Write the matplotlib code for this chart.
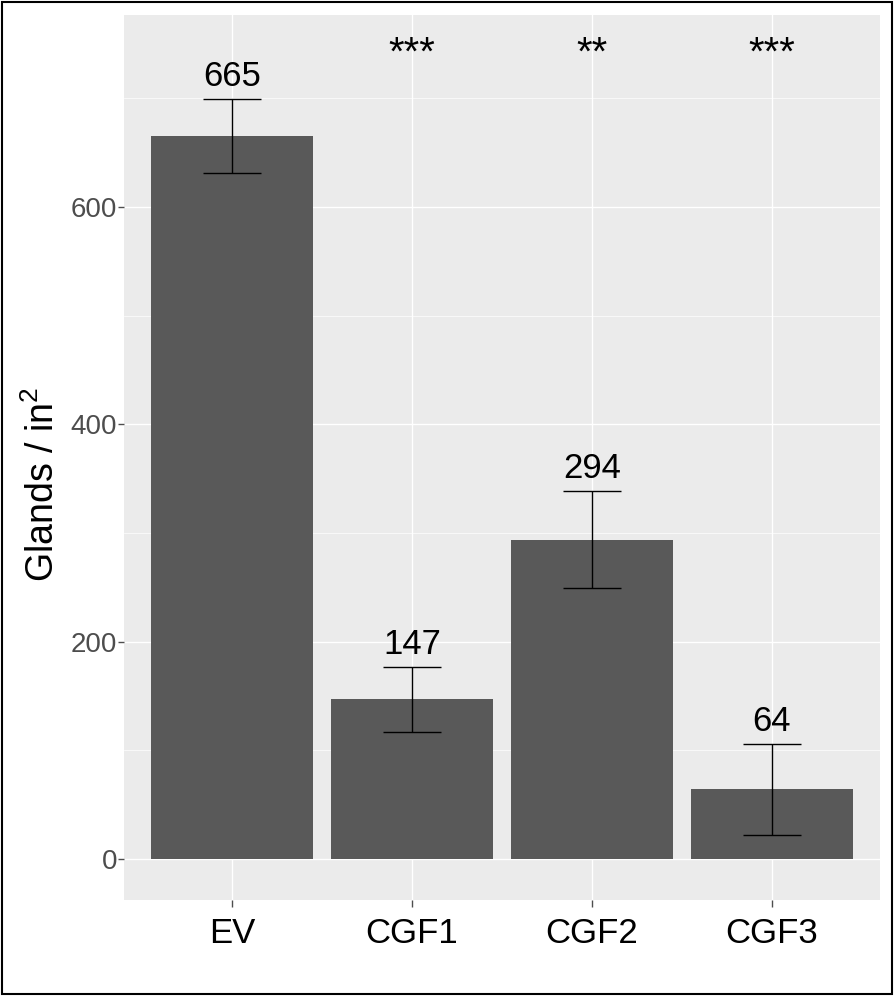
import matplotlib
matplotlib.use("Agg")
import matplotlib.pyplot as plt
from matplotlib.patches import Rectangle
import numpy as np

plt.rcParams['font.family'] = ['Liberation Sans', 'DejaVu Sans']
plt.rcParams['mathtext.fontset'] = 'custom'
plt.rcParams['mathtext.rm'] = 'Liberation Sans'
plt.rcParams['mathtext.it'] = 'Liberation Sans'

# data
groups = ["EV", "CGF1", "CGF2", "CGF3"]
glands = [665, 147, 294, 64]
err = [34, 30, 45, 42]
stars = ["", "***", "**", "***"]
y_ticks = [0, 200, 400, 600]

fig = plt.figure(figsize=(8.95, 9.96), dpi=100)
ax = fig.add_axes([0.1385, 0.0964, 0.8447, 0.8886])
ax.set_facecolor('#ebebeb')
for s in ax.spines.values():
    s.set_visible(False)

x = np.arange(1, len(groups) + 1)

# grid (ggplot theme_gray look)
for yv in [100, 300, 500, 700]:
    ax.axhline(yv, color='white', lw=0.5, zorder=0)
for yv in y_ticks:
    ax.axhline(yv, color='white', lw=1.0, zorder=0)
for xv in x:
    ax.axvline(xv, color='white', lw=1.0, zorder=0)

ax.bar(x, glands, width=0.9, color='#595959', zorder=2)
ax.errorbar(x, glands, yerr=err, fmt='none', ecolor='black',
            elinewidth=1.0, capsize=21, capthick=1.0, zorder=3)

for xi, g, e in zip(x, glands, err):
    ax.text(xi, g + e + 12, str(g), ha='center', va='baseline',
            fontsize=25, color='black', zorder=4)

for xi, s in zip(x, stars):
    if s:
        ax.text(xi, 731, s, ha='center', va='baseline', fontsize=29,
                color='black', zorder=4)

ax.set_xlim(0.4, 4.6)
ax.set_ylim(-37.7, 776.7)
ax.set_xticks(x)
ax.set_xticklabels(groups, fontsize=25, color='black')
ax.set_yticks(y_ticks)
ax.set_yticklabels([str(v) for v in y_ticks], fontsize=20, color='#4d4d4d')
ax.tick_params(axis='x', length=5, width=1, color='#4d4d4d', pad=7)
ax.tick_params(axis='y', length=4, width=1, color='#4d4d4d', pad=1)

ax.set_ylabel(r'Glands / in$^{2}$', fontsize=27, color='black')
ax.yaxis.set_label_coords(-0.082, 0.47)

# figure border
fig.patches.append(Rectangle((0.002, 0.002), 0.995, 0.996, transform=fig.transFigure,
                             fill=False, edgecolor='black', lw=1.5))

fig.savefig("out.png", dpi=100)
